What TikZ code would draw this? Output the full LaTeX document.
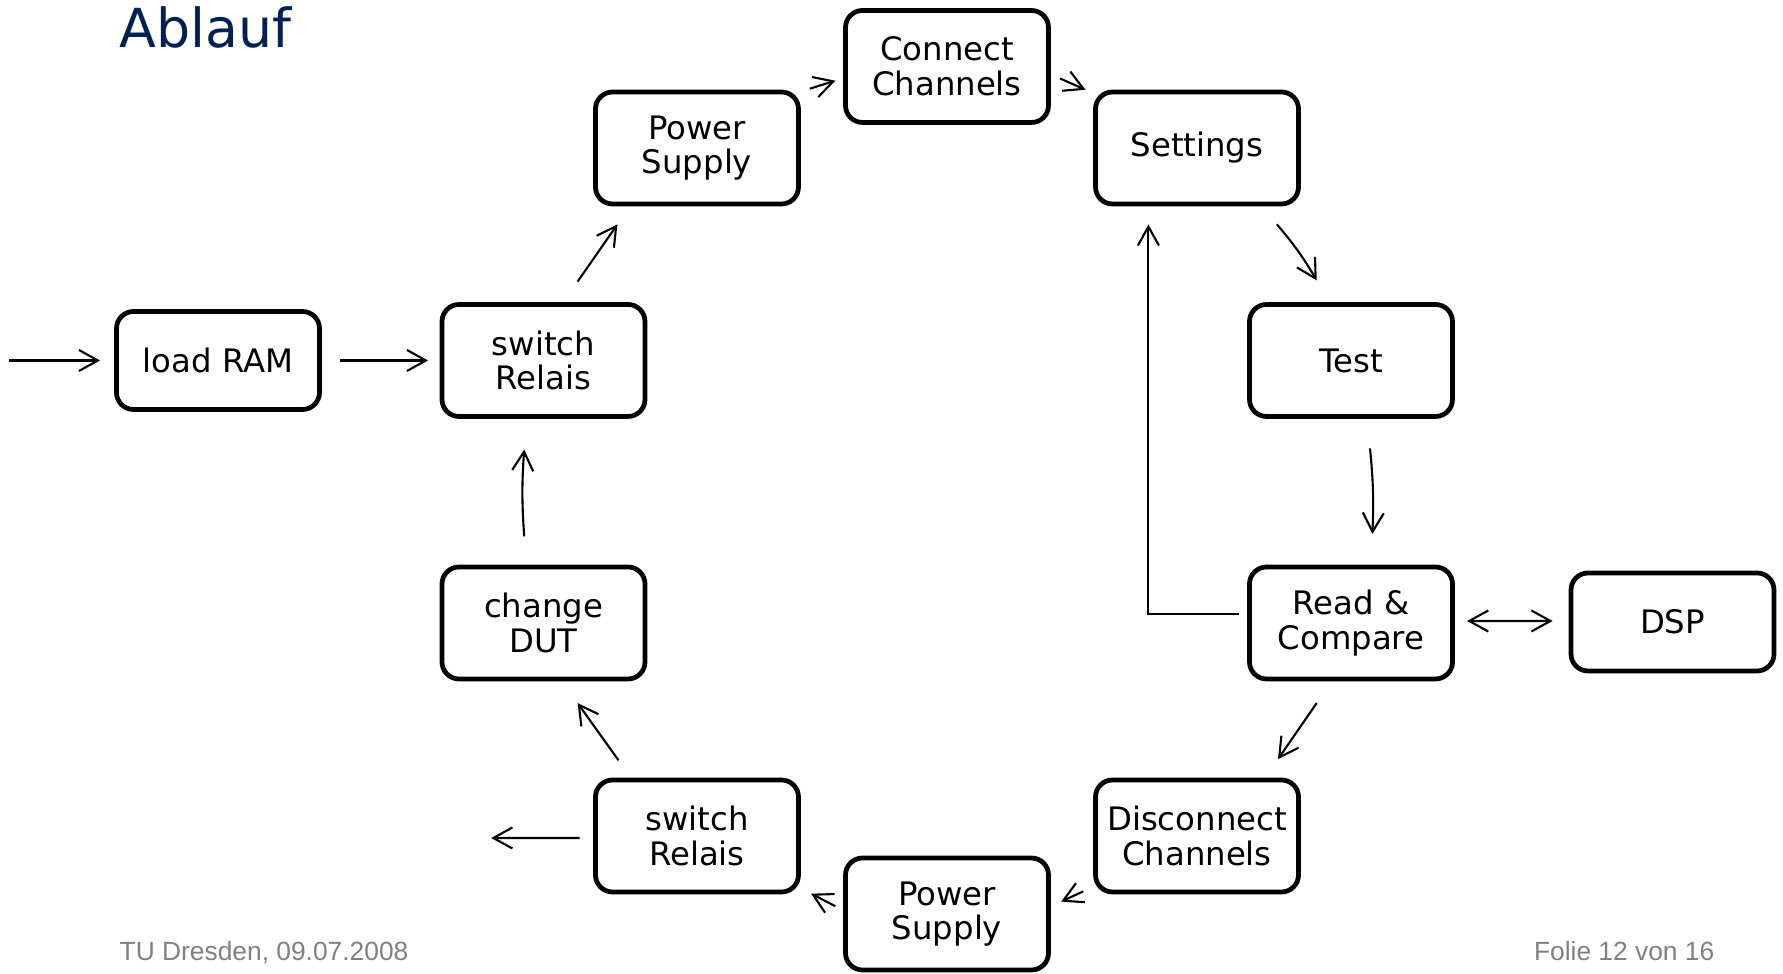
\documentclass[tikz,border=0pt]{standalone}
\usepackage{fontspec}
\setmainfont{DejaVu Sans}
\newfontfamily\footfont{Liberation Sans}
\usetikzlibrary{arrows.meta}
\definecolor{titleblue}{RGB}{0,32,84}
\definecolor{footgray}{RGB}{128,128,128}

\begin{document}
\begin{tikzpicture}[
  box/.style={draw, line width=1.35pt, rounded corners=1.7mm, minimum width=2.03cm,
    minimum height=1.12cm, inner sep=0pt, align=center, font=\fontsize{9.2}{9.9}\selectfont},
  flat/.style={box, minimum height=0.98cm},
  tip/.tip={Straight Barb[length=1.9mm,width=2.1mm]},
  arr/.style={-tip, line width=0.6pt},
  label/.style={inner sep=0pt, text=footgray, font=\footfont\fontsize{7.5}{9}\selectfont}
]
\useasboundingbox (0,0) rectangle (17.83,-9.74);

% title and footer
\node[anchor=base west, inner sep=0pt, text=titleblue, font=\fontsize{15.3}{18}\selectfont] (title) at (1.19, -0.478) {Ablauf};
\node[label, anchor=base west] (date) at (1.19, -9.61) {TU Dresden, 09.07.2008};
\node[label, anchor=base east] (page) at (17.15, -9.61) {Folie 12 von 16};

% nodes
\node[flat] (L) at (2.18, -3.605) {load RAM};
\node[box] (S) at (5.435, -3.605) {switch\\Relais};
\node[box] (P) at (6.97, -1.48) {Power\\Supply};
\node[box] (C) at (9.47, -0.665) {Connect\\Channels};
\node[box] (E) at (11.97, -1.48) {Settings};
\node[box] (T) at (13.51, -3.605) {Test};
\node[box] (R) at (13.51, -6.23) {Read \&\\Compare};
\node[flat] (D) at (16.725, -6.22) {DSP};
\node[box] (X) at (11.97, -8.36) {Disconnect\\Channels};
\node[box] (P2) at (9.47, -9.14) {Power\\Supply};
\node[box] (S2) at (6.97, -8.36) {switch\\Relais};
\node[box] (U) at (5.435, -6.23) {change\\DUT};

\coordinate (IN) at (0.09, -3.605);
\coordinate (OUT) at (4.912, -8.38);

% arrows
\draw [arr] (IN) -- ([xshift=-1.4mm]L.west);
\draw [arr] ([xshift=1.85mm]L.east) -- ([xshift=-1.15mm]S.west);
\draw [arr] ([xshift=3.41mm,yshift=2.05mm]S.north) -- ([xshift=-7.96mm,yshift=-1.8mm]P.south);
\draw [arr] ([xshift=0.9mm,yshift=5.93mm]P.east) -- ([xshift=-0.78mm,yshift=-1.42mm]C.west);
\draw [arr] ([xshift=0.92mm,yshift=-1.2mm]C.east) -- ([xshift=-0.76mm,yshift=5.82mm]E.west);
\draw [arr] ([xshift=7.99mm,yshift=-1.8mm]E.south) to[bend left=5] ([xshift=-3.43mm,yshift=2.17mm]T.north);
\draw [arr] ([xshift=1.9mm,yshift=-2.95mm]T.south) to[bend left=4] ([xshift=2.14mm,yshift=3.06mm]R.north);
\draw [arr] ([xshift=-0.85mm,yshift=0.9mm]R.west) -| ([xshift=-4.86mm,yshift=-1.8mm]E.south);
\draw [arr, tip-tip] ([xshift=1.22mm,yshift=0.2mm]R.east) -- ([xshift=-1.6mm,yshift=0.1mm]D.west);
\draw [arr] ([xshift=-3.43mm,yshift=-2.17mm]R.south) -- ([xshift=8.1mm,yshift=1.85mm]X.north);
\draw [arr] ([xshift=-0.99mm,yshift=-5.54mm]X.west) -- ([xshift=1.03mm,yshift=1.24mm]P2.east);
\draw [arr] ([xshift=-0.78mm,yshift=0.78mm]P2.west) -- ([xshift=1.02mm,yshift=-5.77mm]S2.east);
\draw [arr] ([xshift=-1.36mm,yshift=-0.2mm]S2.west) -- (OUT);
\draw [arr] ([xshift=-7.85mm,yshift=1.73mm]S2.north) -- ([xshift=3.41mm,yshift=-2.17mm]U.south);
\draw [arr] ([xshift=-1.93mm,yshift=2.83mm]U.north) to[bend left=4] ([xshift=-1.93mm,yshift=-3.06mm]S.south);

\end{tikzpicture}
\end{document}
